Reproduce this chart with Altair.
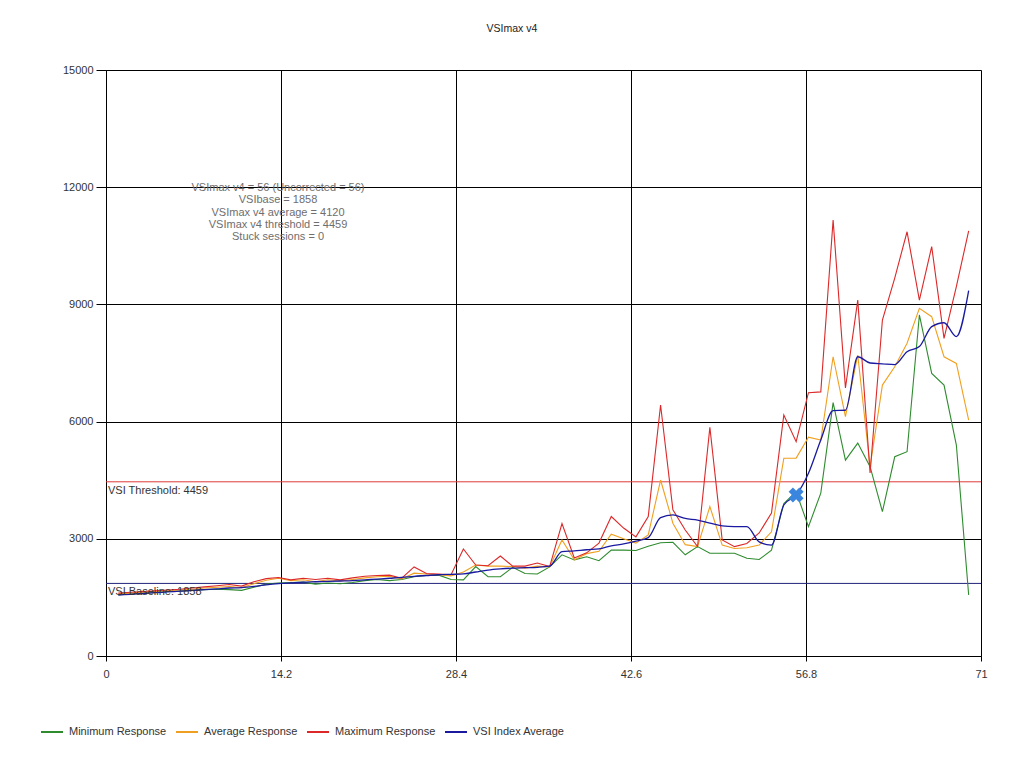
import altair as alt
import pandas as pd

x_vals = list(range(1, 71))
min_resp = [1570, 1590, 1610, 1630, 1650, 1660, 1680, 1700, 1710, 1700,
            1680, 1760, 1840, 1870, 1880, 1890, 1840, 1870, 1850, 1880,
            1930, 1960, 1930, 1960, 2030, 2060, 2070, 1960, 1950, 2290,
            2030, 2030, 2270, 2110, 2100, 2280, 2590, 2460, 2540, 2440,
            2710, 2710, 2700, 2810, 2900, 2910, 2590, 2800, 2630, 2630,
            2630, 2500, 2470, 2710, 3900, 4205, 3310, 4170, 6485, 5015,
            5450, 4845, 3695, 5100, 5230, 8730, 7235, 6935, 5400, 1560]
avg_resp = [1590, 1610, 1630, 1650, 1670, 1690, 1710, 1740, 1760, 1780,
            1750, 1850, 1940, 1990, 1930, 1950, 1900, 1950, 1920, 1960,
            2000, 2030, 2040, 1970, 2120, 2100, 2080, 2050, 2150, 2330,
            2300, 2300, 2290, 2250, 2300, 2280, 2970, 2460, 2620, 2680,
            3120, 3000, 2890, 3100, 4505, 3400, 2850, 2800, 3825, 2840,
            2750, 2770, 2840, 3180, 5060, 5065, 5600, 5530, 7660, 6125,
            7705, 4845, 6935, 7405, 8005, 8900, 8685, 7660, 7490, 6040]
max_resp = [1610, 1630, 1650, 1670, 1690, 1710, 1740, 1770, 1800, 1830,
            1790, 1900, 1980, 2010, 1950, 1990, 1960, 1990, 1950, 2000,
            2040, 2060, 2070, 1990, 2280, 2110, 2100, 2080, 2740, 2330,
            2310, 2560, 2300, 2300, 2380, 2290, 3390, 2510, 2640, 2890,
            3570, 3275, 3050, 3570, 6425, 3740, 3225, 2800, 5854, 2970,
            2800, 2880, 3150, 3660, 6170, 5485, 6740, 6760, 11160, 6860,
            9110, 4685, 8600, 9675, 10860, 9110, 10480, 8130, 9455, 10885]
vsi_avg = [1560, 1580, 1600, 1620, 1640, 1660, 1680, 1700, 1720, 1740,
           1750, 1780, 1820, 1850, 1870, 1890, 1900, 1910, 1920, 1930,
           1950, 1970, 1990, 2010, 2040, 2060, 2080, 2090, 2100, 2150,
           2200, 2230, 2250, 2260, 2270, 2300, 2670, 2690, 2720, 2740,
           2820, 2870, 2940, 3030, 3540, 3610, 3520, 3480, 3400, 3330,
           3310, 3310, 2920, 2840, 3865, 4120, 4680, 5530, 6280, 6290,
           7660, 7500, 7480, 7460, 7790, 7920, 8430, 8530, 8175, 9350]

series_names = ["Minimum Response", "Average Response", "Maximum Response", "VSI Index Average"]
series_colors = ["#2E8B2E", "#F0A020", "#DC2828", "#1A1AA0"]
x_ticks = [0, 14.2, 28.4, 42.6, 56.8, 71]
y_ticks = [0, 3000, 6000, 9000, 12000, 15000]
threshold = 4459
baseline = 1858
vsimax_x = [56]
vsimax_y = [4120]
info_lines = ["VSImax v4 = 56 (Uncorrected = 56)", "VSIbase = 1858",
              "VSImax v4 average = 4120", "VSImax v4 threshold = 4459",
              "Stuck sessions = 0"]
title_text = "VSImax v4"

FONT = "Liberation Sans"

rows = []
for name, vals in zip(series_names, [min_resp, avg_resp, max_resp, vsi_avg]):
    for xv, yv in zip(x_vals, vals):
        rows.append({"x": xv, "value": yv, "series": name})
df = pd.DataFrame(rows)

xscale = alt.Scale(domain=[0, 71], nice=False, zero=False)
yscale = alt.Scale(domain=[0, 15000], nice=False)
color = alt.Color(
    "series:N",
    scale=alt.Scale(domain=series_names, range=series_colors),
    legend=alt.Legend(
        title=None, orient="none", direction="horizontal",
        legendX=-66, legendY=650, symbolType="stroke", symbolSize=484,
        symbolStrokeWidth=2, labelFontSize=11, labelFont=FONT,
        labelColor="#333333", columnPadding=5, labelOffset=5,
    ),
)
xenc = alt.X("x:Q", scale=xscale,
             axis=alt.Axis(values=x_ticks, title=None, grid=True, gridColor="black",
                           gridOpacity=1, tickSize=5, tickColor="black", domainColor="black",
                           labelPadding=7, labelFontSize=11, labelFont=FONT,
                           labelColor="#333333", labelFlush=False,
                           labelExpr="'' + round(datum.value * 10) / 10"))
yenc = alt.Y("value:Q", scale=yscale,
             axis=alt.Axis(values=y_ticks, title=None, grid=True, gridColor="black",
                           gridOpacity=1, tickSize=10, tickColor="black", domainColor="black",
                           labelPadding=3, labelFontSize=11, labelFont=FONT,
                           labelColor="#333333", format="d"))

base = alt.Chart(df)
resp_lines = base.transform_filter(
    alt.datum.series != "VSI Index Average"
).mark_line(strokeWidth=1.1).encode(x=xenc, y=yenc, color=color, detail="series:N")
vsi_line = base.transform_filter(
    alt.datum.series == "VSI Index Average"
).mark_line(strokeWidth=1.3, interpolate="monotone").encode(x=xenc, y=yenc, color=color)

thr_rule = alt.Chart(pd.DataFrame({"v": [threshold]})).mark_rule(
    color="#E03A3A", strokeWidth=1).encode(y=alt.Y("v:Q", scale=yscale))
base_rule = alt.Chart(pd.DataFrame({"v": [baseline]})).mark_rule(
    color="#23237A", strokeWidth=1).encode(y=alt.Y("v:Q", scale=yscale))

thr_text = alt.Chart(pd.DataFrame({"v": [threshold], "t": ["VSI Threshold: %d" % threshold]})).mark_text(
    align="left", baseline="top", dx=2, dy=3, fontSize=11, font=FONT, color="#333333"
).encode(x=alt.value(0), y=alt.Y("v:Q", scale=yscale), text="t:N")
base_text = alt.Chart(pd.DataFrame({"v": [baseline], "t": ["VSI Baseline: %d" % baseline]})).mark_text(
    align="left", baseline="top", dx=2, dy=3, fontSize=11, font=FONT, color="#333333"
).encode(x=alt.value(0), y=alt.Y("v:Q", scale=yscale), text="t:N")

marker = alt.Chart(pd.DataFrame({"x": vsimax_x, "value": vsimax_y})).mark_point(
    shape="cross", filled=True, size=230, angle=45, color="#3A86DE", opacity=1
).encode(x=alt.X("x:Q", scale=xscale), y=alt.Y("value:Q", scale=yscale))

info = alt.Chart(pd.DataFrame({"a": [0]})).mark_text(
    text=info_lines, align="center", baseline="top", lineHeight=12.3,
    fontSize=11, font=FONT, color="#6E6E6E"
).encode(x=alt.value(172), y=alt.value(112))

title = alt.Chart(pd.DataFrame({"a": [0]})).mark_text(
    text=title_text, align="center", baseline="middle", fontSize=10.5, font=FONT, color="#222222"
).encode(x=alt.value(406), y=alt.value(-41))

chart = alt.layer(
    thr_rule, base_rule, resp_lines, vsi_line, marker, thr_text, base_text, info, title
).properties(
    width=875, height=586,
    autosize=alt.AutoSizeParams(type="none"),
    padding={"left": 98, "top": 62, "right": 35, "bottom": 104},
).configure_view(
    stroke="black", strokeWidth=1
).configure(font=FONT, background="white")

chart.save("out.html", embed_options={"renderer": "svg", "actions": False})
